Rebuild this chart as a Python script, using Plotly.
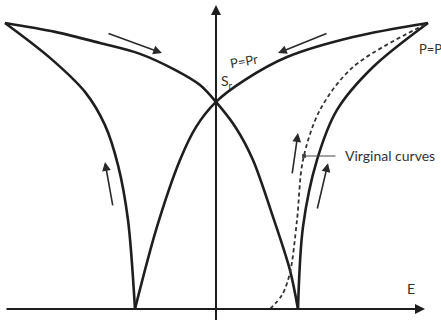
import plotly.graph_objects as go

# Polarization (P) vs electric field (E) butterfly loop, in units of Ec and Ps
# Branch from the left tip through Sr down to the +Ec cusp
branch_a_e = [-2.573, -1.963, -1.415, -0.927, -0.500, -0.195, 0.0, 0.244, 0.451, 0.695, 0.902, 1.0]
branch_a_p = [1.000, 0.969, 0.930, 0.892, 0.836, 0.783, 0.724, 0.633, 0.521, 0.322, 0.136, 0.0]
# Branch from the right tip through Sr down to the -Ec cusp
branch_b_e = [2.585, 1.671, 0.866, 0.354, 0.0, -0.244, -0.439, -0.720, -0.988]
branch_b_p = [1.000, 0.951, 0.881, 0.801, 0.724, 0.636, 0.521, 0.287, 0.0]
# Outer rising branch on the left
branch_c_e = [-0.988, -1.073, -1.195, -1.354, -1.598, -2.024, -2.573]
branch_c_p = [0.0, 0.311, 0.503, 0.643, 0.759, 0.878, 1.000]
# Outer rising branch on the right
branch_d_e = [1.0, 1.061, 1.232, 1.476, 1.915, 2.585]
branch_d_p = [0.0, 0.287, 0.521, 0.696, 0.846, 1.000]
# Virgin curve
virgin_e = [0.659, 0.805, 0.902, 0.988, 1.061, 1.268, 1.671, 2.585]
virgin_p = [0.0, 0.049, 0.126, 0.311, 0.521, 0.696, 0.846, 1.000]

# Direction arrows: (tail E, tail P, head E, head P)
flow_arrows = [
    (-1.329, 0.965, -0.659, 0.895),
    (1.366, 0.965, 0.756, 0.895),
    (-1.256, 0.357, -1.354, 0.514),
    (0.927, 0.469, 1.000, 0.615),
    (1.232, 0.346, 1.366, 0.510),
]

# Coordinate frame
X_RANGE = [-2.634, 2.744]
Y_RANGE = [-0.0385, 1.0804]

INK = "#1e1e1e"
TXT = "#333333"
FONT = "Lato"

fig = go.Figure()

for xs, ys in [(branch_a_e, branch_a_p), (branch_b_e, branch_b_p),
               (branch_c_e, branch_c_p), (branch_d_e, branch_d_p)]:
    fig.add_trace(go.Scatter(x=xs, y=ys, mode="lines",
                             line=dict(color=INK, width=2.6, shape="spline", smoothing=0.9),
                             hoverinfo="skip", showlegend=False))

fig.add_trace(go.Scatter(x=virgin_e, y=virgin_p, mode="lines",
                         line=dict(color="#333333", width=1.8, dash="4px,3px", shape="spline", smoothing=0.9),
                         hoverinfo="skip", showlegend=False))

annotations = []

# Axes with arrowheads
annotations.append(dict(x=2.549, y=0.0, ax=-2.573, ay=0.0, axref="x", ayref="y",
                        xref="x", yref="y", text="", showarrow=True,
                        arrowhead=2, arrowsize=1.0, arrowwidth=2, arrowcolor=INK))
annotations.append(dict(x=0.0, y=1.063, ax=0.0, ay=-0.05, axref="x", ayref="y",
                        xref="x", yref="y", text="", showarrow=True,
                        arrowhead=2, arrowsize=1.0, arrowwidth=2, arrowcolor=INK))

for te, tp, he, hp in flow_arrows:
    annotations.append(dict(x=he, y=hp, ax=te, ay=tp, axref="x", ayref="y",
                            xref="x", yref="y", text="", showarrow=True,
                            arrowhead=2, arrowsize=1.1, arrowwidth=1.6, arrowcolor="#2a2a2a"))

# Leader for the virgin curve label
annotations.append(dict(x=1.073, y=0.535, ax=1.476, ay=0.535, axref="x", ayref="y",
                        xref="x", yref="y", text="", showarrow=True,
                        arrowhead=7, arrowsize=0.8, arrowwidth=1.2, arrowcolor="#444444"))

labels = [
    dict(x=1.549, y=0.535, text="Virginal curves", xanchor="left", yanchor="middle", size=14),
    dict(x=0.341, y=0.866, text="P=Pr", xanchor="center", yanchor="middle", size=13, angle=-10),
    dict(x=2.451, y=0.909, text="P=Ps", xanchor="left", yanchor="middle", size=13),
    dict(x=0.040, y=0.794, text="S<sub>r</sub>", xanchor="left", yanchor="middle", size=14),
    dict(x=2.378, y=0.072, text="E", xanchor="center", yanchor="middle", size=14),
    dict(x=-0.95, y=-0.030, text="−E<sub>c</sub>", xanchor="center", yanchor="top", size=12),
    dict(x=0.08, y=-0.030, text="0", xanchor="center", yanchor="top", size=12),
    dict(x=1.0, y=-0.030, text="E<sub>c</sub>", xanchor="center", yanchor="top", size=12),
]
for lb in labels:
    annotations.append(dict(x=lb["x"], y=lb["y"], xref="x", yref="y", text=lb["text"],
                            showarrow=False, xanchor=lb["xanchor"], yanchor=lb["yanchor"],
                            textangle=lb.get("angle", 0),
                            font=dict(family=FONT, size=lb["size"], color=TXT)))

fig.update_layout(
    width=441, height=320,
    margin=dict(l=0, r=0, t=0, b=0),
    paper_bgcolor="white", plot_bgcolor="white",
    xaxis=dict(range=X_RANGE, visible=False, fixedrange=True),
    yaxis=dict(range=Y_RANGE, visible=False, fixedrange=True),
    annotations=annotations,
    showlegend=False,
)

fig.write_html("out.html")
